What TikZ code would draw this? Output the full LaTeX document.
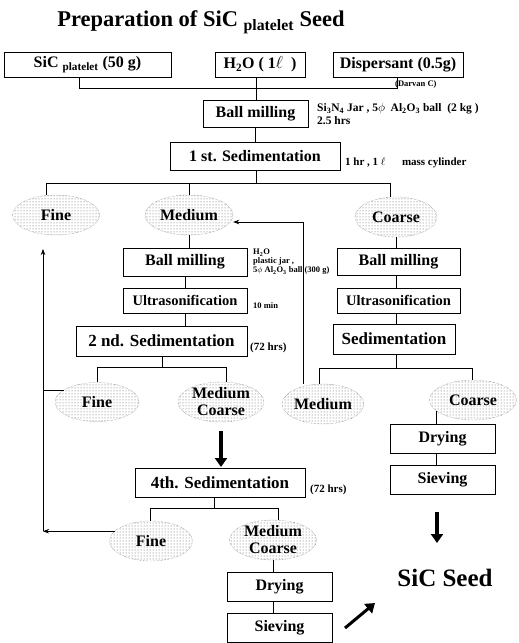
\documentclass[tikz,border=0pt]{standalone}
\usepackage{fontspec}
\setmainfont{Liberation Serif}
\usetikzlibrary{arrows.meta,patterns,shapes.geometric}
\begin{document}
\begin{tikzpicture}[x=1pt,y=-1pt,
  box/.style={draw, line width=0.9pt, inner sep=0pt, font=\bfseries\fontsize{16}{16}\selectfont, align=center},
  note/.style={anchor=west, inner sep=0pt, font=\bfseries\fontsize{11}{12}\selectfont, align=left},
  grain/.style={ellipse, inner sep=0pt, pattern=dots, pattern color=black!65, draw=black!60, densely dotted, align=center, font=\bfseries\fontsize{16}{17}\selectfont},
  ln/.style={line width=0.7pt},
  arr/.style={ln, -{Stealth[length=6pt,width=4.5pt]}},
  fat/.style={line width=3.5pt, -{Triangle[length=9pt,width=12pt]}}]
\useasboundingbox (0,0) rectangle (519,643);

\node[font=\bfseries\fontsize{22.5}{24}\selectfont] (title) at (201,22) {Preparation of SiC \textsubscript{platelet} Seed};

% top inputs
\node[box,minimum width=167pt,minimum height=25pt] (sic) at (87.5,64.5) {SiC \textsubscript{platelet} (50 g)};
\node[box,minimum width=90pt,minimum height=25pt] (h2o) at (260,64.5) {H\textsubscript{2}O ( 1$\ell$\ \ )};
\node[box,minimum width=130pt,minimum height=25pt] (disp) at (398,64.5) {Dispersant (0.5g)};
\node[note,font=\bfseries\fontsize{8.5}{9}\selectfont] (darvan) at (395,84) {(Darvan C)};
\coordinate (j1) at (256,88);
\draw[ln] ([xshift=-8.5pt]sic.south) |- (j1);
\draw[ln] ([xshift=-4pt]h2o.south) -- (j1);
\draw[ln] ([xshift=-1pt]disp.south) |- (j1);

\node[box,minimum width=105pt,minimum height=27pt] (bm1) at (255.5,113.5) {Ball milling};
\draw[ln] (j1) -- (j1 |- bm1.north);
\node[note,anchor=north west,font=\bfseries\fontsize{11.5}{12.5}\selectfont] (bm1n) at (317,103) {Si\textsubscript{3}N\textsubscript{4} Jar , 5$\phi$\ \ Al\textsubscript{2}O\textsubscript{3} ball \ (2 kg )\\2.5 hrs};

\node[box,minimum width=170pt,minimum height=28pt] (sed1) at (255,156) {1 st. Sedimentation};
\draw[ln] (bm1.south) -- (bm1.south |- sed1.north);
\node[note] (sed1n) at (345,163) {1 hr , 1 $\ell$ \quad\ mass cylinder};

\coordinate (j2) at (256,183);
\draw[ln] (sed1.south -| j2) -- (j2);
\node[grain,minimum width=87pt,minimum height=40pt] (fine1) at (56,215) {Fine};
\node[grain,minimum width=88pt,minimum height=40pt] (med1) at (189,215) {Medium};
\node[grain,minimum width=82pt,minimum height=40pt] (coarse1) at (396,217) {Coarse};
\draw[ln] ([xshift=-10pt]fine1.north) |- (j2);
\draw[ln] (med1.north) |- (j2);
\draw[ln] ([xshift=-6pt]coarse1.north) |- (j2);

% middle column
\node[box,minimum width=124pt,minimum height=28pt] (bm2) at (185,262) {Ball milling};
\draw[ln] (med1.south) -- (med1.south |- bm2.north);
\node[note,anchor=north west,font=\bfseries\fontsize{8.5}{9}\selectfont] (bm2n) at (253,249) {H\textsubscript{2}O\\plastic jar ,\\5$\phi$ Al\textsubscript{2}O\textsubscript{3} ball (300 g)};
\node[box,minimum width=124pt,minimum height=25pt,font=\bfseries\fontsize{14.5}{15}\selectfont] (us2) at (185,300.5) {Ultrasonification};
\node[note,font=\bfseries\fontsize{8.5}{9}\selectfont] (us2n) at (253,306) {10 min};
\draw[ln] (bm2) -- (us2);
\node[box,minimum width=171pt,minimum height=30pt,font=\bfseries\fontsize{17}{17}\selectfont] (sed2) at (161.5,341) {2 nd. Sedimentation};
\draw[ln] (us2.south) -- (us2.south |- sed2.north);
\node[note] (sed2n) at (250,348) {(72 hrs)};
\coordinate (j3) at (162,367);
\draw[ln] (sed2.south -| j3) -- (j3);
\node[grain,minimum width=84pt,minimum height=39pt] (fine2) at (97,402) {Fine};
\node[grain,minimum width=86pt,minimum height=40pt] (mc2) at (221,402) {Medium\\Coarse};
\draw[ln] (fine2.north) |- (j3);
\draw[ln] ([xshift=5pt]mc2.north) |- (j3);

\node[box,minimum width=170pt,minimum height=29pt,font=\bfseries\fontsize{17}{17}\selectfont] (sed4) at (220,482.5) {4th. Sedimentation};
\coordinate (fb1) at (221,431);
\coordinate (fb2) at (221,467);
\draw[fat] (fb1) -- (fb2);
\node[note] (sed4n) at (310,490) {(72 hrs)};
\coordinate (j4) at (214,508);
\draw[ln] ([xshift=-6pt]sed4.south) -- (j4);
\node[grain,minimum width=83pt,minimum height=40pt] (fine3) at (151,541) {Fine};
\node[grain,minimum width=87pt,minimum height=40pt] (mc3) at (273,540) {Medium\\Coarse};
\draw[ln] ([xshift=-1pt]fine3.north) |- (j4);
\draw[ln] ([xshift=5pt]mc3.north) |- (j4);
\node[box,minimum width=105pt,minimum height=29pt] (dry3) at (279.5,586.5) {Drying};
\node[box,minimum width=105pt,minimum height=29pt] (sv3) at (279.5,627.5) {Sieving};
\draw[ln] (mc3.south) -- (mc3.south |- dry3.north);
\draw[ln] (dry3.south -| mc3.south) -- (sv3.north -| mc3.south);

% right column
\node[box,minimum width=123pt,minimum height=27pt] (bm3) at (398.5,261.5) {Ball milling};
\draw[ln] (coarse1.south) -- (coarse1.south |- bm3.north);
\node[box,minimum width=123pt,minimum height=25pt,font=\bfseries\fontsize{14.5}{15}\selectfont] (us3) at (398.5,300.5) {Ultrasonification};
\node[box,minimum width=122pt,minimum height=30pt,font=\bfseries\fontsize{17}{17}\selectfont] (sed3) at (394,339) {Sedimentation};
\draw[ln] (bm3.south -| coarse1.south) -- (us3.north -| coarse1.south);
\draw[ln] (us3.south -| coarse1.south) -- (sed3.north -| coarse1.south);
\coordinate (j5) at (396,368);
\draw[ln] (sed3.south -| j5) -- (j5);
\node[grain,minimum width=80pt,minimum height=40pt] (med3) at (323,404) {Medium};
\node[grain,minimum width=87pt,minimum height=40pt] (coarse3) at (473,400) {Coarse};
\draw[ln] ([xshift=-4pt]med3.north) |- (j5);
\draw[ln] ([xshift=-1pt]coarse3.north) |- (j5);
\node[box,minimum width=105pt,minimum height=29pt] (dry4) at (442.5,438.5) {Drying};
\node[box,minimum width=105pt,minimum height=29pt] (sv4) at (442.5,479.5) {Sieving};
\draw[ln] (coarse3.197) -- (coarse3.197 |- dry4.north);
\draw[ln] (dry4.south -| coarse3.197) -- (sv4.north -| coarse3.197);

\node[font=\bfseries\fontsize{25}{25}\selectfont, inner sep=0pt] (seed) at (445,578) {SiC Seed};
\coordinate (fc1) at (437,512);
\coordinate (fc2) at (437,543);
\draw[fat] (fc1) -- (fc2);
\coordinate (da1) at (345,628);
\coordinate (da2) at (375,603);
\draw[fat,line width=3pt] (da1) -- (da2);

% recycle loops
\draw[arr] ([xshift=-20pt]med3.north) |- ([yshift=-7pt]med1.east);
\coordinate (lb) at (43,531);
\coordinate (lt) at (43,249);
\draw[arr] (fine3.165) -- (fine3.165 -| lb);
\draw[arr] (lb) -- (lt);
\draw[ln] (fine2.160) -- (fine2.160 -| lb);
\end{tikzpicture}
\end{document}
